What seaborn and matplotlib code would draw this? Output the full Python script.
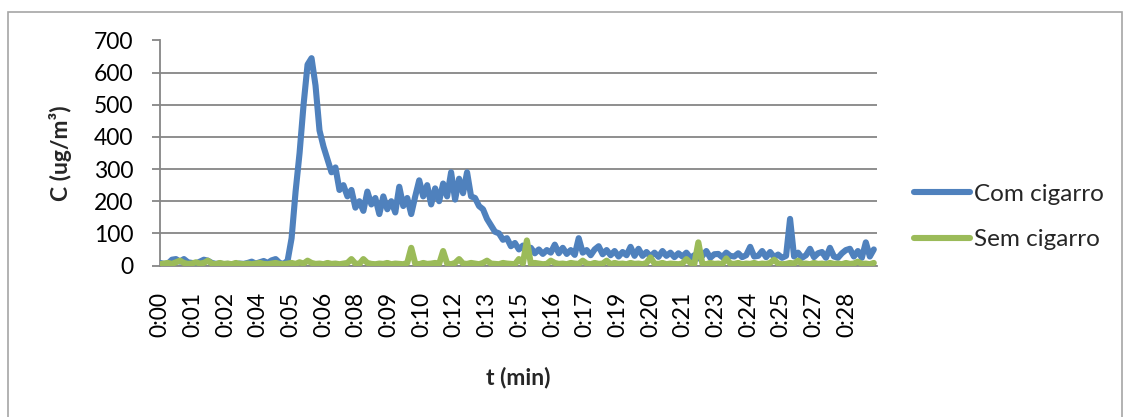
import numpy as np
import pandas as pd
import matplotlib
matplotlib.use("Agg")
import matplotlib.pyplot as plt
from matplotlib.lines import Line2D
from matplotlib.patches import Rectangle
import seaborn as sns

# ---- data (10 s sampling, t in seconds) ----
t_seconds = list(range(0, 1800, 10))

com_cigarro = [
    8, 5, 6, 18, 20, 12, 20, 10, 8, 6,
    12, 18, 15, 8, 5, 6, 4, 5, 3, 4,
    6, 5, 8, 12, 6, 10, 14, 8, 16, 20,
    8, 5, 15, 85, 230, 350, 500, 625, 645, 560,
    420, 370, 330, 290, 305, 235, 250, 215, 235, 180,
    200, 170, 230, 190, 210, 160, 215, 175, 200, 165,
    245, 185, 210, 160, 215, 265, 215, 250, 190, 240,
    200, 255, 215, 290, 205, 270, 225, 290, 215, 210,
    185, 175, 145, 125, 105, 100, 80, 85, 60, 70,
    50, 62, 42, 55, 38, 50, 36, 48, 40, 65,
    38, 55, 36, 48, 33, 85, 40, 48, 32, 50,
    60, 35, 48, 32, 45, 28, 42, 32, 58, 30,
    52, 30, 42, 28, 40, 27, 45, 30, 40, 26,
    38, 28, 40, 24, 32, 22, 30, 45, 24, 35,
    36, 26, 40, 30, 28, 38, 26, 32, 58, 28,
    30, 45, 26, 42, 26, 34, 24, 30, 145, 28,
    40, 24, 32, 52, 26, 38, 42, 24, 55, 28,
    24, 38, 48, 52, 28, 45, 24, 72, 28, 50,
]

sem_cigarro = [
    4, 6, 8, 5, 10, 15, 8, 5, 6, 10,
    6, 8, 15, 6, 4, 8, 5, 6, 4, 8,
    5, 4, 6, 4, 6, 8, 5, 4, 6, 8,
    5, 4, 6, 8, 5, 10, 6, 15, 8, 5,
    6, 4, 8, 5, 6, 4, 6, 8, 20, 6,
    5, 20, 8, 5, 4, 6, 5, 8, 4, 6,
    5, 4, 8, 55, 6, 4, 8, 5, 6, 8,
    5, 45, 6, 4, 8, 20, 6, 5, 8, 6,
    4, 8, 15, 6, 5, 4, 8, 6, 5, 4,
    20, 6, 78, 5, 8, 6, 4, 5, 15, 8,
    5, 6, 4, 8, 6, 5, 15, 6, 4, 8,
    5, 6, 15, 4, 8, 5, 6, 4, 8, 5,
    6, 4, 8, 25, 6, 5, 8, 4, 6, 5,
    4, 6, 20, 8, 5, 72, 6, 4, 8, 5,
    6, 4, 22, 6, 5, 8, 4, 6, 5, 8,
    4, 6, 5, 8, 18, 6, 4, 5, 8, 6,
    15, 5, 6, 4, 8, 5, 6, 4, 8, 5,
    6, 4, 8, 5, 6, 12, 5, 6, 4, 8,
]

tick_labels = ["0:00", "0:01", "0:02", "0:04", "0:05", "0:06", "0:08", "0:09",
               "0:10", "0:12", "0:13", "0:15", "0:16", "0:17", "0:19", "0:20",
               "0:21", "0:23", "0:24", "0:25", "0:27", "0:28"]
tick_step_s = 82

series_names = ["Com cigarro", "Sem cigarro"]
series_colors = ["#4F81BD", "#9BBB59"]

df = pd.DataFrame({
    "t": t_seconds * 2,
    "C": com_cigarro + sem_cigarro,
    "serie": [series_names[0]] * len(t_seconds) + [series_names[1]] * len(t_seconds),
})

# ---- figure ----
sns.set_theme(style="white")
plt.rcParams["font.family"] = ["Lato", "DejaVu Sans"]

W, H = 1130, 417
fig = plt.figure(figsize=(W / 100, H / 100), dpi=100)
ax = fig.add_axes([160 / W, 1 - 265.5 / H, (877 - 160) / W, (265.5 - 40.5) / H])

# outer chart border
fig.patches.append(Rectangle((8 / W, -0.05), (1122 - 8) / W, 1.05 - 12 / H,
                             transform=fig.transFigure, fill=False,
                             edgecolor="#A6A6A6", linewidth=1.2, zorder=0))

sns.lineplot(data=df, x="t", y="C", hue="serie", palette=series_colors,
             hue_order=series_names, estimator=None, sort=True,
             linewidth=4.4, solid_capstyle="round", solid_joinstyle="round",
             legend=False, ax=ax, zorder=3)

ax.set_xlim(0, 1798)
ax.set_ylim(0, 700)
ax.set_yticks(range(0, 701, 100))
ax.set_xticks([i * tick_step_s for i in range(len(tick_labels))])
ax.set_xticklabels(tick_labels, rotation=90)

gray = "#868686"
ax.yaxis.grid(True, color=gray, linewidth=1.3)
ax.xaxis.grid(False)
ax.set_axisbelow(True)
for s in ["top", "right"]:
    ax.spines[s].set_visible(False)
ax.spines["left"].set_color(gray)
ax.spines["left"].set_linewidth(1.3)
ax.spines["bottom"].set_color(gray)
ax.spines["bottom"].set_linewidth(1.3)
ax.tick_params(axis="y", length=6, width=1.3, color=gray, pad=13,
               labelsize=16.5, labelcolor="black", left=True)
ax.tick_params(axis="x", length=0, pad=19, labelsize=16.5, labelcolor="black")

ax.set_xlabel("")
ax.set_ylabel("")
fig.text(60 / W, 1 - 153 / H, "C (ug/m³)", rotation=90, ha="center", va="center",
         fontsize=16.5, fontweight="bold")
fig.text(518 / W, 1 - 377 / H, "t (min)", ha="center", va="center",
         fontsize=16.5, fontweight="bold")

handles = [Line2D([], [], color=c, linewidth=4.4, solid_capstyle="round")
           for c in series_colors]
leg = fig.legend(handles, series_names, loc="center left",
                 bbox_to_anchor=(914 / W, 1 - 217 / H), frameon=False,
                 fontsize=17.5, handlelength=2.3, handletextpad=0.15,
                 labelspacing=1.0, borderpad=0, borderaxespad=0)

fig.savefig("out.png", dpi=100, facecolor="white")
